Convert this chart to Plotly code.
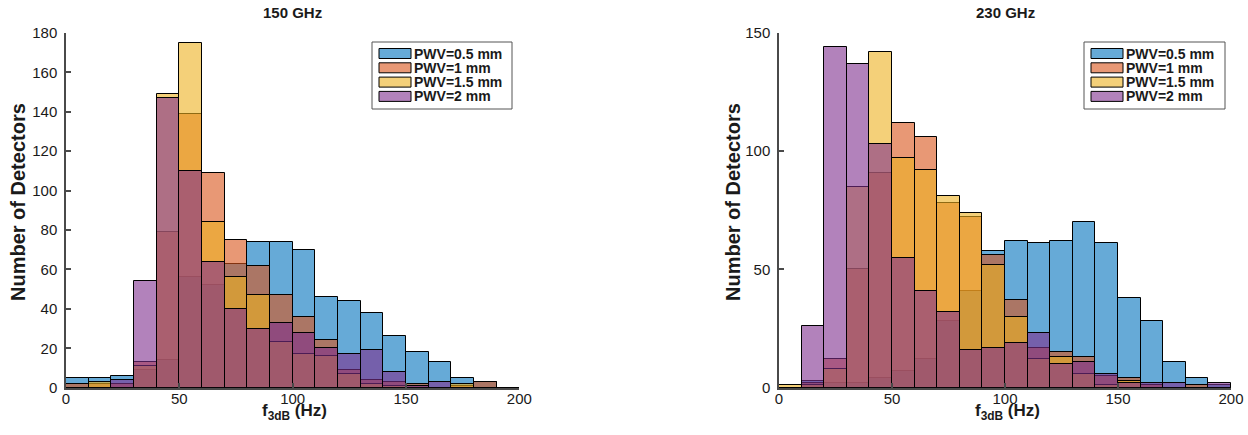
import plotly.graph_objects as go

# Histogram bins: 10 Hz wide, 0-200 Hz
bin_edges = list(range(0, 201, 10))
bin_centers = [e + 5 for e in bin_edges[:-1]]

series_names = ["PWV=0.5 mm", "PWV=1 mm", "PWV=1.5 mm", "PWV=2 mm"]

# 150 GHz detector counts per bin
counts_150 = {
    "PWV=0.5 mm": [5, 5, 6, 9, 14, 56, 52, 63, 74, 74, 70, 46, 44, 38, 26, 18, 13, 5, 3, 0],
    "PWV=1 mm":   [2, 2, 2, 13, 79, 139, 109, 75, 62, 47, 36, 24, 9, 4, 3, 2, 0, 1, 3, 0],
    "PWV=1.5 mm": [0, 3, 0, 11, 149, 175, 84, 56, 47, 23, 17, 16, 7, 2, 1, 0, 0, 2, 0, 0],
    "PWV=2 mm":   [0, 0, 4, 54, 147, 110, 64, 40, 30, 33, 28, 20, 17, 19, 8, 1, 3, 0, 0, 0],
}

# 230 GHz detector counts per bin
counts_230 = {
    "PWV=0.5 mm": [0, 3, 2, 2, 4, 7, 12, 28, 41, 58, 62, 61, 62, 70, 61, 38, 28, 11, 4, 1],
    "PWV=1 mm":   [0, 2, 12, 50, 91, 112, 106, 78, 72, 56, 37, 17, 15, 13, 5, 4, 1, 0, 1, 0],
    "PWV=1.5 mm": [1, 1, 8, 85, 142, 97, 92, 81, 74, 52, 30, 12, 13, 6, 1, 3, 0, 0, 0, 0],
    "PWV=2 mm":   [0, 26, 144, 137, 103, 55, 41, 32, 16, 17, 19, 23, 10, 11, 6, 2, 2, 2, 0, 2],
}

panel_titles = ["150 GHz", "230 GHz"]
x_ticks = [0, 50, 100, 150, 200]
y_ticks_150 = list(range(0, 181, 20))
y_ticks_230 = [0, 50, 100, 150]

face_colors = ["rgba(0,114,189,0.6)", "rgba(217,83,25,0.6)",
               "rgba(237,177,32,0.6)", "rgba(126,47,142,0.6)"]

# Layout positions are given in figure pixels and converted to paper fractions.
W, H = 1248, 435
FONT = "Liberation Sans, Arial, Helvetica, sans-serif"
AXIS_COLOR = "#4a4a4a"
TEXT_COLOR = "#1a1a1a"


def px(x):
    return x / W


def py(y):
    return 1 - y / H


fig = go.Figure()

panels = [
    (counts_150, "x", "y"),
    (counts_230, "x2", "y2"),
]
for counts, xa, ya in panels:
    for name, color in zip(series_names, face_colors):
        fig.add_trace(go.Bar(
            x=bin_centers, y=counts[name], width=10, name=name,
            xaxis=xa, yaxis=ya, showlegend=False,
            marker=dict(color=color, line=dict(color="black", width=1)),
        ))

y_dom = [py(387.7), py(33)]
axis_common = dict(
    showgrid=False, zeroline=False, showline=True, linecolor=AXIS_COLOR,
    linewidth=1.5, ticks="inside", ticklen=5, tickwidth=1.5, tickcolor=AXIS_COLOR,
    automargin=False,
    tickfont=dict(family=FONT, size=15, color=TEXT_COLOR),
)
x_axis_style = dict(range=[0, 200], tickvals=x_ticks, ticklabelstandoff=-3, **axis_common)
y_axis_style = dict(ticklabelstandoff=4, **axis_common)

fig.update_layout(
    width=W, height=H,
    margin=dict(l=0, r=0, t=0, b=0, pad=0, autoexpand=False),
    paper_bgcolor="white", plot_bgcolor="white",
    barmode="overlay", bargap=0, showlegend=False,
    xaxis=dict(domain=[px(66), px(519.3)], anchor="y", **x_axis_style),
    yaxis=dict(domain=y_dom, range=[0, 180], tickvals=y_ticks_150,
               anchor="x", **y_axis_style),
    xaxis2=dict(domain=[px(779), px(1231)], anchor="y2", **x_axis_style),
    yaxis2=dict(domain=y_dom, range=[0, 150], tickvals=y_ticks_230,
                anchor="x2", **y_axis_style),
)

bold = dict(family=FONT, color=TEXT_COLOR, weight="bold")

# Panel titles and axis labels
centers = [(66 + 519.3) / 2, (779 + 1231) / 2]
ylabel_x = [18, 733]
for title, cx, lx in zip(panel_titles, centers, ylabel_x):
    fig.add_annotation(x=px(cx), y=py(12), xref="paper", yref="paper",
                       text=title, showarrow=False, font=dict(size=15, **bold),
                       xanchor="center", yanchor="middle")
    fig.add_annotation(x=px(cx + 2), y=py(412), xref="paper", yref="paper",
                       text="f<sub>3dB</sub> (Hz)", showarrow=False,
                       font=dict(size=17, **bold), xanchor="center", yanchor="middle")
    fig.add_annotation(x=px(lx), y=py(202), xref="paper", yref="paper",
                       text="Number of Detectors", showarrow=False, textangle=-90,
                       font=dict(size=20, **bold), xanchor="center", yanchor="middle")

# Legend boxes
legend_boxes = [(372, 512), (1084, 1225)]
row_centers = [53.5, 67.8, 82.1, 96.4]
for bx0, bx1 in legend_boxes:
    fig.add_shape(type="rect", xref="paper", yref="paper",
                  x0=px(bx0), x1=px(bx1), y0=py(109), y1=py(42),
                  line=dict(color="#555555", width=1), fillcolor="white")
    for name, color, rc in zip(series_names, face_colors, row_centers):
        fig.add_shape(type="rect", xref="paper", yref="paper",
                      x0=px(bx0 + 7), x1=px(bx0 + 39), y0=py(rc + 5), y1=py(rc - 5),
                      line=dict(color="black", width=1), fillcolor=color)
        fig.add_annotation(x=px(bx0 + 40), y=py(rc), xref="paper", yref="paper",
                           text=name, showarrow=False, font=dict(size=14, **bold),
                           xanchor="left", yanchor="middle")

fig.write_html("out.html")
